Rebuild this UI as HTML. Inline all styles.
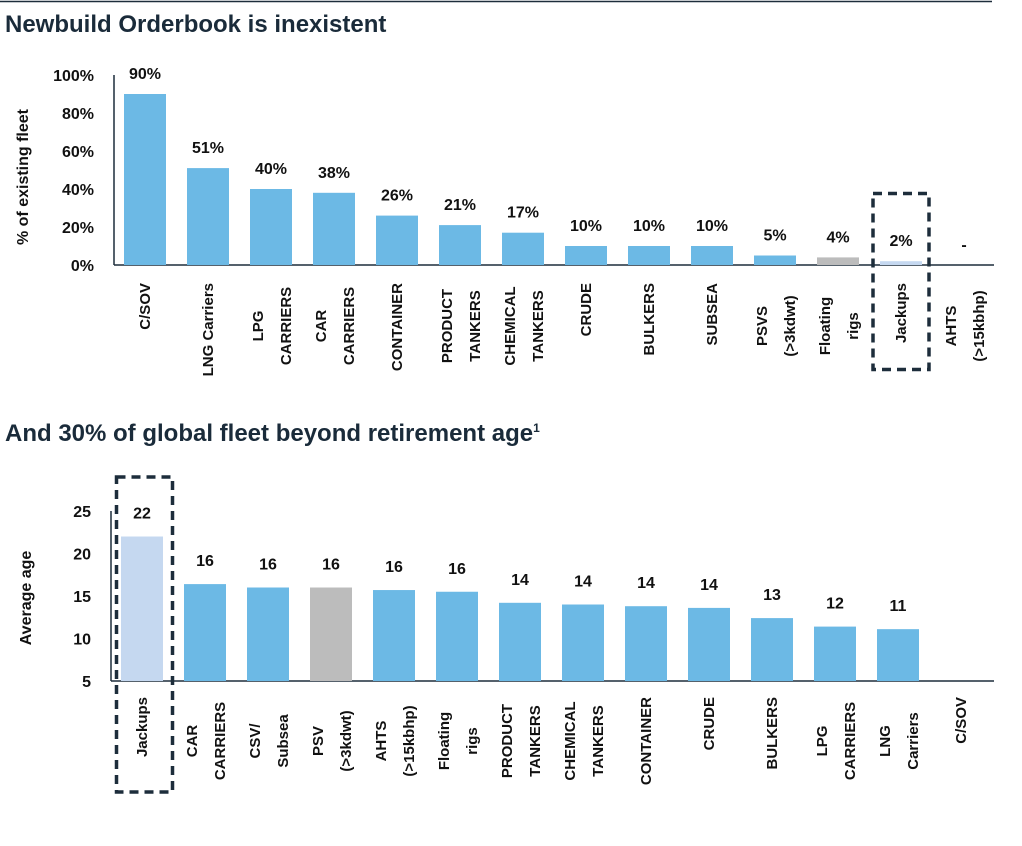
<!DOCTYPE html>
<html><head><meta charset="utf-8"><style>
body{margin:0;background:#fff;}
svg{display:block;font-family:"Liberation Sans",sans-serif;font-weight:bold;}
</style></head><body>
<svg id="c" width="1022" height="846">
<line x1="0" y1="1.5" x2="992" y2="1.5" stroke="#1d2d3b" stroke-width="1.5"/>
<text x="5" y="32" font-size="24" fill="#1a2b3a">Newbuild Orderbook is inexistent</text>
<text x="5" y="441" font-size="24" fill="#1a2b3a">And 30% of global fleet beyond retirement age<tspan font-size="12" dy="-9">1</tspan></text>
<text transform="translate(28,177) rotate(-90)" text-anchor="middle" font-size="16" fill="#111">% of existing fleet</text>
<text transform="translate(31,598) rotate(-90)" text-anchor="middle" font-size="16" fill="#111">Average age</text>
<g id="g1"></g><g id="g2"></g>
<rect x="873" y="193.5" width="56" height="176" fill="none" stroke="#1d2d3b" stroke-width="3.5" stroke-dasharray="9,6"/>
<rect x="116.5" y="477" width="56" height="315" fill="none" stroke="#1d2d3b" stroke-width="3.5" stroke-dasharray="9,6"/>
</svg>
<script>
const cats1=[["C/SOV"],["LNG Carriers"],["LPG","CARRIERS"],["CAR","CARRIERS"],["CONTAINER"],["PRODUCT","TANKERS"],["CHEMICAL","TANKERS"],["CRUDE"],["BULKERS"],["SUBSEA"],["PSVS","(>3kdwt)"],["Floating","rigs"],["Jackups"],["AHTS","(>15kbhp)"]];
const vals1=[90,51,40,38,26,21,17,10,10,10,5,4,2,0];
const labels1=["90%","51%","40%","38%","26%","21%","17%","10%","10%","10%","5%","4%","2%","-"];
const colors1=["b","b","b","b","b","b","b","b","b","b","b","g","l","b"];
const ticks1=[0,20,40,60,80,100];
const cats2=[["Jackups"],["CAR","CARRIERS"],["CSV/","Subsea"],["PSV","(>3kdwt)"],["AHTS","(>15kbhp)"],["Floating","rigs"],["PRODUCT","TANKERS"],["CHEMICAL","TANKERS"],["CONTAINER"],["CRUDE"],["BULKERS"],["LPG","CARRIERS"],["LNG","Carriers"],["C/SOV"]];
const vals2=[22,16.4,16,16,15.7,15.5,14.2,14,13.8,13.6,12.4,11.4,11.1,null];
const labels2=["22","16","16","16","16","16","14","14","14","14","13","12","11",""];
const colors2=["l","b","b","g","b","b","b","b","b","b","b","b","b","b"];
const ticks2=[5,10,15,20,25];
const COL={b:"#6cb9e5",g:"#bcbcbc",l:"#c5d8f0"};
const NS="http://www.w3.org/2000/svg";
function mk(p,t,a){const e=document.createElementNS(NS,t);for(const k in a)e.setAttribute(k,a[k]);p.appendChild(e);return e;}
function draw(g,cfg){
 const {cats,vals,labels,colors,ticks,x0,base,ymin,ymax,top,fmt,lblTop,lblMid,axisEnd,fs,off}=cfg;
 const y=v=>base-(v-ymin)/(ymax-ymin)*(base-top);
 const pitch=63,bw=42,first=x0+10;
 const ax=mk(g,"line",{x1:x0,y1:top,x2:x0,y2:base,stroke:"#1d2d3b","stroke-width":1.5});
 
 
 const bx=mk(g,"line",{x1:x0,y1:base,x2:axisEnd,y2:base,stroke:"#1d2d3b","stroke-width":1.5});
 
 
 ticks.forEach(t=>{const e=mk(g,"text",{x:x0-20,y:y(t)+6,"text-anchor":"end","font-size":fs,fill:"#111"});e.textContent=fmt(t);
  
  });
 cats.forEach((c,i)=>{
  const x=first+i*pitch,cx=x+bw/2,v=vals[i];
  if(v!==null&&v>ymin){const r=mk(g,"rect",{x:x,y:y(v),width:bw,height:base-y(v),fill:COL[colors[i]]});
   
   }
  if(labels[i]){const ly=(v!==null&&v>ymin?y(v):base)-off;
   const t=mk(g,"text",{x:cx,y:ly,"text-anchor":"middle","font-size":16,fill:"#111"});t.textContent=labels[i];
   
   }
  if(c.length===1){const t=mk(g,"text",{transform:`translate(${cx+5},${lblTop}) rotate(-90)`,"text-anchor":"end","font-size":15,fill:"#111"});t.textContent=c[0];
   
   }
  else c.forEach((s,j)=>{const t=mk(g,"text",{transform:`translate(${cx-8+j*28},${lblMid}) rotate(-90)`,"text-anchor":"middle","font-size":15,fill:"#111"});t.textContent=s;
   
   });
 });
}
draw(document.getElementById("g1"),{cats:cats1,vals:vals1,labels:labels1,colors:colors1,ticks:ticks1,x0:114,base:265,ymin:0,ymax:100,top:75,fmt:t=>t+"%",lblTop:283,lblMid:326,axisEnd:994,fs:16,off:15});
draw(document.getElementById("g2"),{cats:cats2,vals:vals2,labels:labels2,colors:colors2,ticks:ticks2,x0:111,base:681,ymin:5,ymax:25,top:511,fmt:t=>t,lblTop:697,lblMid:741,axisEnd:994,fs:16,off:18});
</script>
</body></html>
